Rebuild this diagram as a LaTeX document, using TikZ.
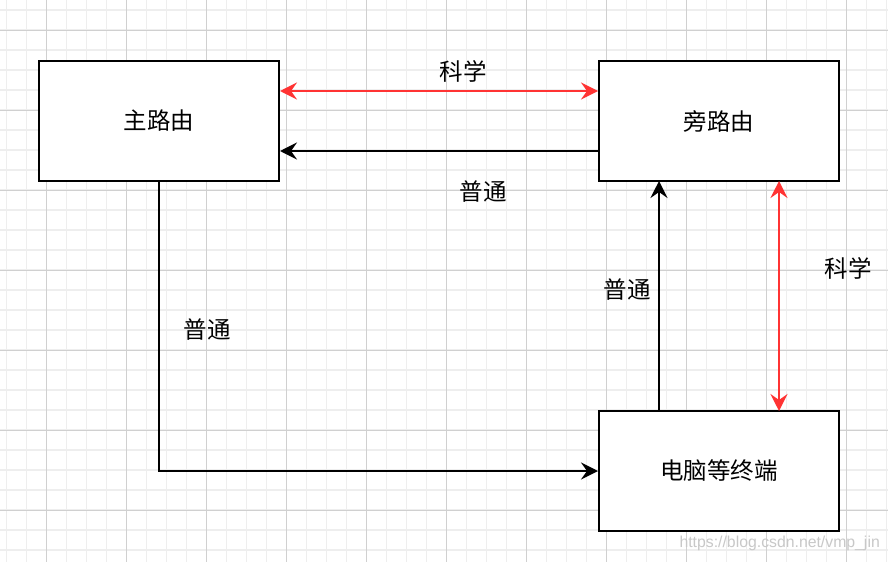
\documentclass[tikz,border=0pt]{standalone}
\usepackage{fontspec}
\newfontfamily\cjk{Noto Sans CJK SC}
\usetikzlibrary{arrows.meta}
\definecolor{minorgrid}{HTML}{EEEEEE}
\definecolor{majorgrid}{HTML}{D0D0D0}
\definecolor{redline}{HTML}{FF3333}
\definecolor{wm}{HTML}{C8C8C8}
\tikzset{
  tip/.tip={Stealth[length=17pt,width=17pt,inset=6pt]},
  box/.style={draw=black, line width=2pt, fill=white, minimum width=240pt, minimum height=120pt, inner sep=0pt, font=\cjk\fontsize{23.5}{28}\selectfont},
  conn/.style={line width=2pt, -tip},
  redconn/.style={line width=2pt, draw=redline, tip-tip},
  lbl/.style={font=\cjk\fontsize{23.5}{28}\selectfont, inner sep=0pt}
}
\begin{document}
\begin{tikzpicture}[x=1pt,y=-1pt]
\useasboundingbox (0,0) rectangle (888,562);
\fill[white] (0,0) rectangle (888,562);
% minor grid
\foreach \x in {6.7,26.7,...,886.7} \draw[minorgrid, line width=1.5pt] (\x,0) -- (\x,562);
\foreach \y in {10,30,...,560} \draw[minorgrid, line width=1.5pt] (0,\y) -- (888,\y);
% major grid
\foreach \x in {46.7,126.7,...,886.7} \draw[majorgrid, line width=1pt] (\x,0) -- (\x,562);
\foreach \y in {30,110,...,560} \draw[majorgrid, line width=1pt] (0,\y) -- (888,\y);

\node[box] (main) at (159,121) {主路由};
\node[box] (side) at (719,121) {旁路由};
\node[box] (pc) at (719,471) {电脑等终端};

\coordinate (m1) at (main.east |- 0,91);
\coordinate (s1) at (side.west |- 0,91);
\draw[redconn] (m1) -- (s1);
\coordinate (m2) at (main.east |- 0,151);
\coordinate (s2) at (side.west |- 0,151);
\draw[conn] (s2) -- (m2);

\coordinate (mb) at (main.south);
\coordinate (corner) at (159,471);
\draw[conn] (mb) -- (corner) -- (pc.west);

\coordinate (pcu) at (659,411);
\coordinate (sd) at (659,181);
\draw[conn] (pcu) -- (sd);

\coordinate (sr) at (779,181);
\coordinate (pr) at (779,411);
\draw[redconn] (sr) -- (pr);

\node[lbl] (l1) at (463,71) {科学};
\node[lbl] (l2) at (483,192) {普通};
\node[lbl] (l3) at (207,330) {普通};
\node[lbl] (l4) at (627,290) {普通};
\node[lbl] (l5) at (848,268) {科学};
\node[font=\fontspec{Liberation Sans}\fontsize{15.8}{19}\selectfont, text=wm, inner sep=0pt, anchor=east] (wmk) at (880,543) {https://blog.csdn.net/vmp\_jin};
\end{tikzpicture}
\end{document}
